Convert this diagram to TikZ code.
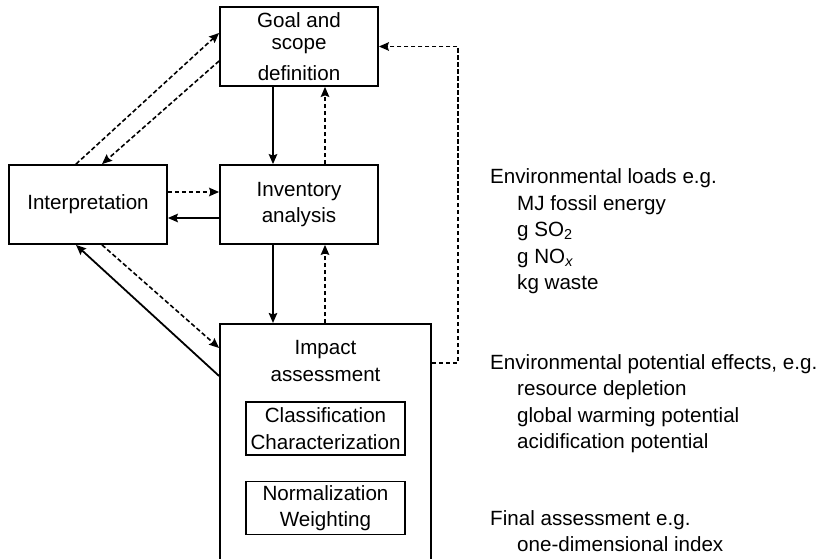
\documentclass[tikz,border=0pt]{standalone}
\usepackage{fontspec}
\setmainfont{Liberation Sans}
\usetikzlibrary{arrows.meta}

\begin{document}
\begin{tikzpicture}[x=1pt, y=-1pt, >={Stealth[length=10pt,width=8.5pt,inset=1.5pt]},
    font=\fontsize{20.6}{26.5}\selectfont,
    box/.style={draw, line width=1.8pt, minimum width=158pt, minimum height=79pt, align=center, inner sep=0pt},
    subbox/.style={draw, line width=1.6pt, minimum width=159pt, minimum height=53pt, align=center, inner sep=0pt},
    solidarrow/.style={->, line width=1.8pt},
    dasharrow/.style={->, line width=1.6pt, dash pattern=on 4.5pt off 2.5pt},
    note/.style={anchor=north west, align=left, inner sep=0pt}]

    \useasboundingbox (0,0) rectangle (825,559);

    \node[box] (goal) at (299,46.5) {Goal and\\[-4.5pt]scope\\[4.5pt]definition};
    \node[box] (interp) at (88,204.5) {Interpretation};
    \node[box] (inv) at (299,204.5) {Inventory\\analysis};

    \node[draw, line width=1.8pt, minimum width=211pt, minimum height=277pt, anchor=north, inner sep=0pt] (imp) at (325.5,323) {};
    \node[anchor=north, align=center, inner sep=0pt] (imptext) at ([yshift=-17.5pt]imp.north) {Impact\\assessment};
    \node[subbox] (class) at (325.5,428.5) {Classification\\Characterization};
    \node[subbox] (norm) at (325.5,508) {Normalization\\Weighting};

    % vertical flows
    \draw[solidarrow] ([xshift=-26pt]goal.south) -- ([xshift=-26pt]inv.north);
    \draw[dasharrow] ([xshift=26pt]inv.north) -- ([xshift=26pt]goal.south);
    \draw[solidarrow] ([xshift=-26pt]inv.south) -- ([xshift=-26pt]inv.south |- imp.north);
    \draw[dasharrow] ([xshift=26pt]inv.south |- imp.north) -- ([xshift=26pt]inv.south);

    % horizontal flows
    \draw[dasharrow] ([yshift=12.5pt]interp.east) -- ([yshift=12.5pt]inv.west);
    \draw[solidarrow] ([yshift=-13.5pt]inv.west) -- ([yshift=-13.5pt]interp.east);

    % diagonal flows
    \draw[dasharrow] ([xshift=-12pt]interp.north) -- ([yshift=13.5pt]goal.west);
    \draw[dasharrow] ([yshift=-14.5pt]goal.west) -- ([xshift=14pt]interp.north);
    \draw[dasharrow] ([xshift=14pt]interp.south) -- ([yshift=-25pt]imp.north west);
    \draw[solidarrow] ([yshift=-53pt]imp.north west) -- ([xshift=-12pt]interp.south);

    % feedback to goal
    \draw[dasharrow] ([yshift=-40pt]imp.north east) -- ++(26,0) |- (goal.east);

    \node[note] (loads) at (490,168.5) {Environmental loads e.g.\\
        \hspace*{27pt}MJ fossil energy\\
        \hspace*{27pt}g SO\textsubscript{2}\\
        \hspace*{27pt}g NO\textsubscript{\itshape x}\\
        \hspace*{27pt}kg waste};
    \node[note] (effects) at (490,354) {Environmental potential effects, e.g.\\
        \hspace*{27pt}resource depletion\\
        \hspace*{27pt}global warming potential\\
        \hspace*{27pt}acidification potential};
    \node[note] (final) at (490,510) {Final assessment e.g.\\
        \hspace*{27pt}one-dimensional index};

\end{tikzpicture}
\end{document}
